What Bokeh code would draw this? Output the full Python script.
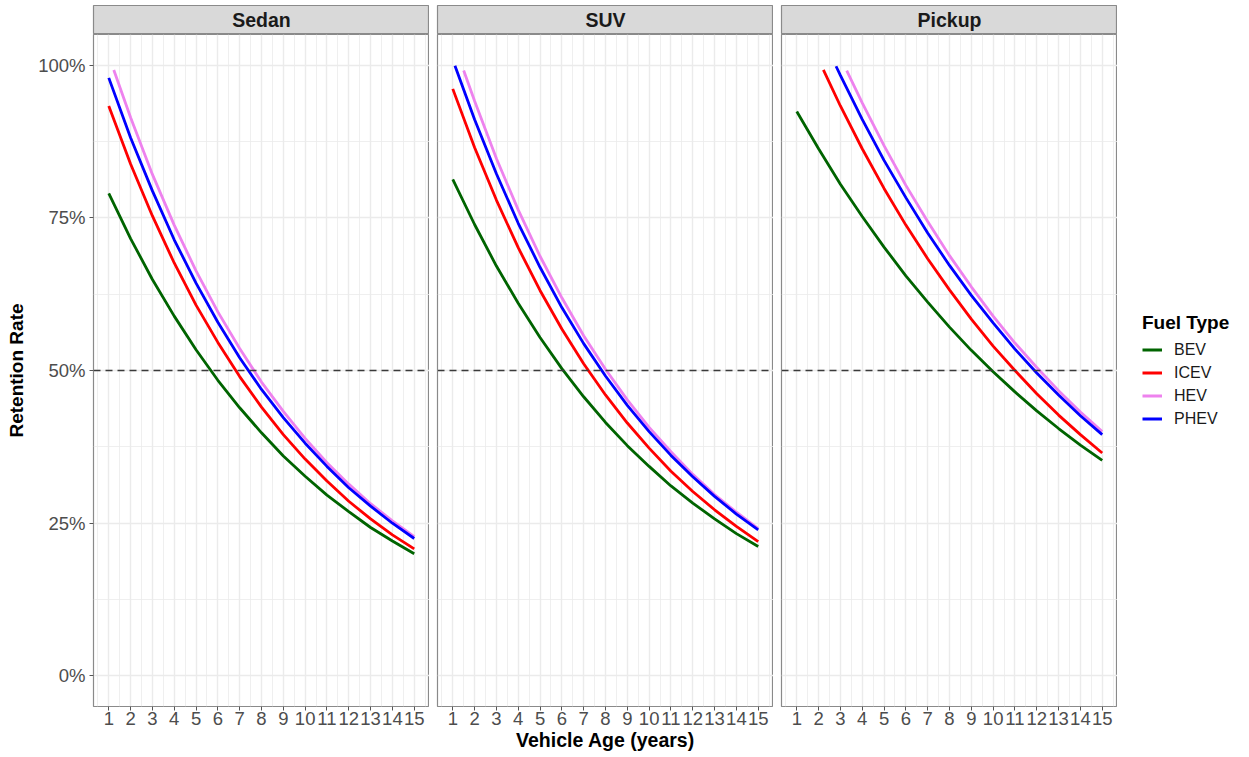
from bokeh.plotting import figure
from bokeh.models import (Range1d, FixedTicker, NumeralTickFormatter, Span, Label,
                          Legend, LegendItem, Grid, ColumnDataSource)
from bokeh.layouts import row, column
from bokeh.embed import file_html
from bokeh.resources import INLINE

FONT = "Liberation Sans"

# ---------------- data ----------------
panels = ["Sedan", "SUV", "Pickup"]
fuels = ["BEV", "ICEV", "HEV", "PHEV"]
fuel_colors = ["#006400", "#FF0000", "#EE82EE", "#0000FF"]

x_ticks = [1, 2, 3, 4, 5, 6, 7, 8, 9, 10, 11, 12, 13, 14, 15]
x_minor = [0.5, 1.5, 2.5, 3.5, 4.5, 5.5, 6.5, 7.5, 8.5, 9.5, 10.5, 11.5, 12.5, 13.5, 14.5, 15.5]
y_ticks = [0, 0.25, 0.5, 0.75, 1.0]
y_minor = [0.125, 0.375, 0.625, 0.875]
threshold = 0.5

# Sedan
sedan_bev_age = [1, 2, 3, 4, 5, 6, 7, 8, 9, 10, 11, 12, 13, 14, 15]
sedan_bev = [0.790, 0.716, 0.649, 0.589, 0.534, 0.484, 0.439, 0.398, 0.360, 0.327, 0.296, 0.269, 0.243, 0.221, 0.200]
sedan_icev_age = [1, 2, 3, 4, 5, 6, 7, 8, 9, 10, 11, 12, 13, 14, 15]
sedan_icev = [0.933, 0.838, 0.753, 0.676, 0.607, 0.546, 0.490, 0.440, 0.395, 0.355, 0.319, 0.286, 0.257, 0.231, 0.208]
sedan_hev_age = [1.23, 2, 3, 4, 5, 6, 7, 8, 9, 10, 11, 12, 13, 14, 15]
sedan_hev = [0.992, 0.914, 0.821, 0.738, 0.663, 0.596, 0.536, 0.481, 0.433, 0.389, 0.349, 0.314, 0.282, 0.254, 0.228]
sedan_phev_age = [1, 2, 3, 4, 5, 6, 7, 8, 9, 10, 11, 12, 13, 14, 15]
sedan_phev = [0.979, 0.881, 0.794, 0.714, 0.643, 0.579, 0.521, 0.469, 0.423, 0.381, 0.343, 0.308, 0.278, 0.250, 0.225]

# SUV
suv_bev_age = [1, 2, 3, 4, 5, 6, 7, 8, 9, 10, 11, 12, 13, 14, 15]
suv_bev = [0.813, 0.739, 0.671, 0.610, 0.554, 0.503, 0.457, 0.415, 0.377, 0.343, 0.311, 0.283, 0.257, 0.233, 0.212]
suv_icev_age = [1, 2, 3, 4, 5, 6, 7, 8, 9, 10, 11, 12, 13, 14, 15]
suv_icev = [0.961, 0.865, 0.779, 0.701, 0.631, 0.568, 0.511, 0.460, 0.414, 0.373, 0.335, 0.302, 0.272, 0.245, 0.220]
suv_hev_age = [1.5, 2, 3, 4, 5, 6, 7, 8, 9, 10, 11, 12, 13, 14, 15]
suv_hev = [0.991, 0.941, 0.847, 0.763, 0.687, 0.619, 0.557, 0.502, 0.452, 0.407, 0.367, 0.330, 0.297, 0.268, 0.241]
suv_phev_age = [1.1, 2, 3, 4, 5, 6, 7, 8, 9, 10, 11, 12, 13, 14, 15]
suv_phev = [0.999, 0.911, 0.822, 0.741, 0.669, 0.603, 0.544, 0.491, 0.443, 0.400, 0.361, 0.326, 0.294, 0.265, 0.239]

# Pickup
pickup_bev_age = [1, 2, 3, 4, 5, 6, 7, 8, 9, 10, 11, 12, 13, 14, 15]
pickup_bev = [0.924, 0.863, 0.805, 0.752, 0.702, 0.655, 0.612, 0.571, 0.533, 0.498, 0.465, 0.434, 0.405, 0.378, 0.353]
pickup_icev_age = [2.22, 3, 4, 5, 6, 7, 8, 9, 10, 11, 12, 13, 14, 15]
pickup_icev = [0.992, 0.933, 0.863, 0.798, 0.738, 0.683, 0.632, 0.584, 0.540, 0.500, 0.462, 0.427, 0.395, 0.365]
pickup_hev_age = [3.29, 4, 5, 6, 7, 8, 9, 10, 11, 12, 13, 14, 15]
pickup_hev = [0.991, 0.938, 0.868, 0.803, 0.744, 0.688, 0.637, 0.589, 0.545, 0.505, 0.467, 0.432, 0.400]
pickup_phev_age = [2.8, 3, 4, 5, 6, 7, 8, 9, 10, 11, 12, 13, 14, 15]
pickup_phev = [0.998, 0.983, 0.911, 0.844, 0.783, 0.725, 0.672, 0.623, 0.578, 0.535, 0.496, 0.460, 0.426, 0.395]

series = {
    "Sedan": [(sedan_bev_age, sedan_bev), (sedan_icev_age, sedan_icev),
              (sedan_hev_age, sedan_hev), (sedan_phev_age, sedan_phev)],
    "SUV": [(suv_bev_age, suv_bev), (suv_icev_age, suv_icev),
            (suv_hev_age, suv_hev), (suv_phev_age, suv_phev)],
    "Pickup": [(pickup_bev_age, pickup_bev), (pickup_icev_age, pickup_icev),
               (pickup_hev_age, pickup_hev), (pickup_phev_age, pickup_phev)],
}

# ---------------- style ----------------
FRAME_W = 336
FRAME_H = 672
LEFT_FIRST = 93
GAP = 8
BOTTOM = 50
STRIP_H = 29
STRIP_TOP = 5
BORDER_COL = "#8A8A8A"
GRID_COL = "#EBEBEB"
TICK_COL = "#4D4D4D"
TICK_FONT = "18.5px"


def make_strip(name, left):
    s = figure(width=left + FRAME_W, height=STRIP_TOP + STRIP_H,
               x_range=Range1d(0, 1), y_range=Range1d(0, 1),
               x_axis_type=None, y_axis_type=None,
               toolbar_location=None, output_backend="svg",
               min_border_left=left, min_border_right=0,
               min_border_top=STRIP_TOP, min_border_bottom=0,
               background_fill_color="#D9D9D9",
               outline_line_color=BORDER_COL, outline_line_width=1.2)
    s.add_layout(Label(x=0.5, y=0.5, text=name, text_align="center",
                       text_baseline="middle", text_font=FONT,
                       text_font_size="19.5px", text_font_style="bold",
                       text_color="#1A1A1A"))
    return s


def make_panel(name, first, xlabel):
    left = LEFT_FIRST if first else GAP
    p = figure(width=left + FRAME_W, height=FRAME_H + BOTTOM,
               x_range=Range1d(0.3, 15.7), y_range=Range1d(-0.05, 1.05),
               y_axis_type="linear" if first else None,
               toolbar_location=None, output_backend="svg",
               min_border_left=left, min_border_right=0,
               min_border_top=0, min_border_bottom=BOTTOM,
               outline_line_color=BORDER_COL, outline_line_width=1.2,
               background_fill_color="white")
    xt = FixedTicker(ticks=x_ticks, minor_ticks=x_minor)
    p.xaxis.ticker = xt
    p.xgrid.ticker = xt
    p.xaxis.axis_line_color = None
    p.xaxis.major_tick_line_color = "#555555"
    p.xaxis.major_tick_out = 4
    p.xaxis.major_tick_in = 0
    p.xaxis.minor_tick_line_color = None
    p.xaxis.major_label_standoff = 1
    p.xaxis.major_label_text_font = FONT
    p.xaxis.major_label_text_font_size = TICK_FONT
    p.xaxis.major_label_text_color = TICK_COL
    p.xaxis.axis_label = xlabel
    p.xaxis.axis_label_standoff = 1
    p.xaxis.axis_label_text_font = FONT
    p.xaxis.axis_label_text_font_size = "19.5px"
    p.xaxis.axis_label_text_font_style = "bold"
    p.xaxis.axis_label_text_color = "black"
    p.xgrid.grid_line_color = GRID_COL
    p.xgrid.grid_line_width = 1.4
    p.xgrid.minor_grid_line_color = GRID_COL
    p.xgrid.minor_grid_line_width = 0.8

    yt = FixedTicker(ticks=y_ticks, minor_ticks=y_minor)
    if first:
        p.yaxis.ticker = yt
        p.ygrid.ticker = yt
        p.yaxis.formatter = NumeralTickFormatter(format="0%")
        p.yaxis.axis_line_color = None
        p.yaxis.major_tick_line_color = "#555555"
        p.yaxis.major_tick_out = 4
        p.yaxis.major_tick_in = 0
        p.yaxis.minor_tick_line_color = None
        p.yaxis.major_label_standoff = 4
        p.yaxis.major_label_text_font = FONT
        p.yaxis.major_label_text_font_size = TICK_FONT
        p.yaxis.major_label_text_color = TICK_COL
        p.yaxis.axis_label = "Retention Rate"
        p.yaxis.axis_label_standoff = 8
        p.yaxis.axis_label_text_font = FONT
        p.yaxis.axis_label_text_font_size = "19px"
        p.yaxis.axis_label_text_font_style = "bold"
        p.yaxis.axis_label_text_color = "black"
        p.ygrid.grid_line_color = GRID_COL
        p.ygrid.grid_line_width = 1.4
        p.ygrid.minor_grid_line_color = GRID_COL
        p.ygrid.minor_grid_line_width = 0.8
    else:
        p.add_layout(Grid(dimension=1, ticker=yt, grid_line_color=GRID_COL,
                          grid_line_width=1.4, minor_grid_line_color=GRID_COL,
                          minor_grid_line_width=0.8))

    for (ages, vals), color in zip(series[name], fuel_colors):
        src = ColumnDataSource(data=dict(age=ages, rate=vals))
        p.line(x="age", y="rate", source=src, line_color=color, line_width=2.8)

    p.add_layout(Span(location=threshold, dimension="width", line_color="#3A3A3A",
                      line_width=1.3, line_dash="7 5"))
    return p


cols = []
for i, name in enumerate(panels):
    first = (i == 0)
    left = LEFT_FIRST if first else GAP
    xlabel = "Vehicle Age (years)" if i == 1 else " "
    cols.append(column(make_strip(name, left), make_panel(name, first, xlabel)))

# legend figure: legend keys come from hidden copies of the Pickup series
lg = figure(width=131, height=STRIP_TOP + STRIP_H + FRAME_H + BOTTOM,
            x_range=Range1d(0, 1), y_range=Range1d(0, 1),
            x_axis_type=None, y_axis_type=None,
            toolbar_location=None, output_backend="svg",
            min_border_left=0, min_border_right=0,
            min_border_top=STRIP_TOP + STRIP_H, min_border_bottom=BOTTOM,
            outline_line_color=None)
items = []
for fuel, color, (ages, vals) in zip(fuels, fuel_colors, series["Pickup"]):
    src = ColumnDataSource(data=dict(age=ages, rate=vals))
    r = lg.line(x="age", y="rate", source=src, line_color=color, line_width=2.8,
                visible=False)
    items.append(LegendItem(label=fuel, renderers=[r]))
legend = Legend(items=items, location="center_left", title="Fuel Type",
                title_text_font=FONT, title_text_font_size="19px",
                title_text_font_style="bold", title_text_color="black",
                title_standoff=6,
                label_text_font=FONT, label_text_font_size="16px",
                label_text_color="#1A1A1A",
                glyph_width=20, glyph_height=20, label_height=20,
                label_standoff=12, spacing=3, margin=25, padding=10,
                border_line_color=None, background_fill_alpha=0,
                click_policy="none")
lg.add_layout(legend)

layout = row(*cols, lg)

open("out.html", "w").write(file_html(layout, INLINE))
